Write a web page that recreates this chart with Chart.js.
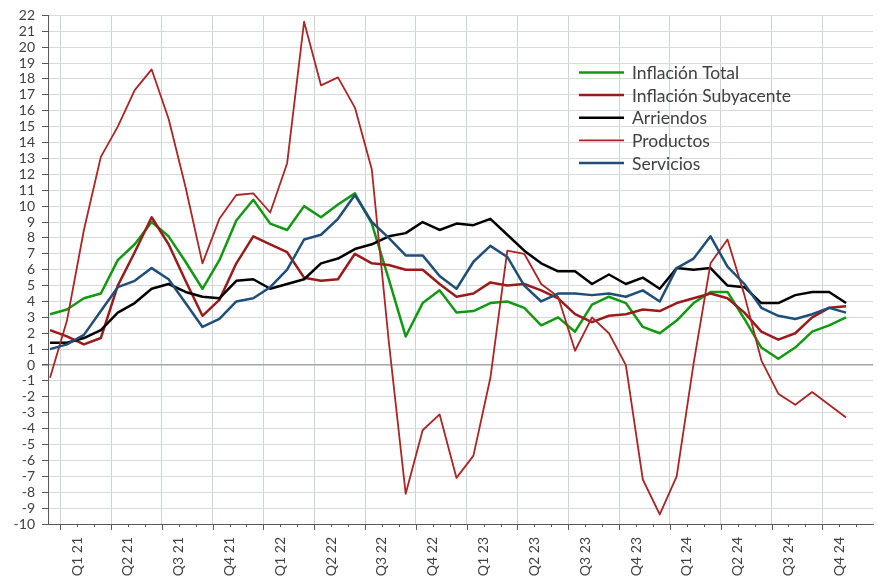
<!DOCTYPE html>
<html>
<head>
<meta charset="utf-8">
<script src="https://cdn.jsdelivr.net/npm/chart.js@4.4.1/dist/chart.umd.min.js"></script>
<style>
  html, body { margin: 0; padding: 0; background: #fff; }
</style>
</head>
<body>
<canvas id="chart" width="880" height="576"></canvas>
<script>
var months = ("ene-21, feb-21, mar-21, abr-21, may-21, jun-21, jul-21, ago-21, sep-21, oct-21, nov-21, dic-21, " +
              "ene-22, feb-22, mar-22, abr-22, may-22, jun-22, jul-22, ago-22, sep-22, oct-22, nov-22, dic-22, " +
              "ene-23, feb-23, mar-23, abr-23, may-23, jun-23, jul-23, ago-23, sep-23, oct-23, nov-23, dic-23, " +
              "ene-24, feb-24, mar-24, abr-24, may-24, jun-24, jul-24, ago-24, sep-24, oct-24, nov-24, dic-24").split(", ");
var quarters = "Q1 21, Q2 21, Q3 21, Q4 21, Q1 22, Q2 22, Q3 22, Q4 22, Q1 23, Q2 23, Q3 23, Q4 23, Q1 24, Q2 24, Q3 24, Q4 24".split(", ");

var inflacionTotal = [3.2, 3.5, 4.2, 4.5, 6.6, 7.6, 9.0, 8.1, 6.5, 4.8, 6.6, 9.1,
                      10.4, 8.9, 8.5, 10.0, 9.3, 10.1, 10.8, 8.9, 5.4, 1.8, 3.9, 4.7,
                      3.3, 3.4, 3.9, 4.0, 3.6, 2.5, 3.0, 2.1, 3.8, 4.3, 3.9, 2.4,
                      2.0, 2.8, 3.9, 4.6, 4.6, 2.9, 1.1, 0.4, 1.1, 2.1, 2.5, 3.0];
var inflacionSubyacente = [2.2, 1.8, 1.3, 1.7, 5.0, 7.1, 9.3, 7.6, 5.3, 3.1, 4.1, 6.4,
                           8.1, 7.6, 7.1, 5.5, 5.3, 5.4, 7.0, 6.4, 6.3, 6.0, 6.0, 5.1,
                           4.3, 4.5, 5.2, 5.0, 5.1, 4.7, 4.2, 3.2, 2.7, 3.1, 3.2, 3.5,
                           3.4, 3.9, 4.2, 4.5, 4.2, 3.3, 2.1, 1.6, 2.0, 3.0, 3.6, 3.7];
var arriendos = [1.4, 1.4, 1.7, 2.2, 3.3, 3.9, 4.8, 5.1, 4.6, 4.3, 4.2, 5.3,
                 5.4, 4.8, 5.1, 5.4, 6.4, 6.7, 7.3, 7.6, 8.1, 8.3, 9.0, 8.5,
                 8.9, 8.8, 9.2, 8.2, 7.2, 6.4, 5.9, 5.9, 5.1, 5.7, 5.1, 5.5,
                 4.8, 6.1, 6.0, 6.1, 5.0, 4.9, 3.9, 3.9, 4.4, 4.6, 4.6, 3.9];
var productos = [-0.8, 2.8, 8.5, 13.1, 15.0, 17.3, 18.6, 15.5, 11.2, 6.4, 9.2, 10.7,
                 10.8, 9.6, 12.7, 21.6, 17.6, 18.1, 16.2, 12.3, 1.5, -8.1, -4.1, -3.1,
                 -7.1, -5.7, -0.8, 7.2, 7.0, 5.1, 4.3, 0.9, 3.0, 2.0, 0.0, -7.2,
                 -9.4, -7.0, 0.1, 6.4, 7.9, 4.4, 0.3, -1.8, -2.5, -1.7, -2.5, -3.3];
var servicios = [1.0, 1.3, 1.9, 3.4, 4.9, 5.3, 6.1, 5.4, 3.9, 2.4, 2.9, 4.0,
                 4.2, 4.9, 6.0, 7.9, 8.2, 9.2, 10.7, 9.0, 8.0, 6.9, 6.9, 5.6,
                 4.8, 6.5, 7.5, 6.8, 5.0, 4.0, 4.5, 4.5, 4.4, 4.5, 4.3, 4.7,
                 4.0, 6.1, 6.7, 8.1, 6.2, 5.1, 3.6, 3.1, 2.9, 3.2, 3.6, 3.3];

var FONT = "Lato, 'Open Sans', sans-serif";
var TEXT = '#404040';
var AXIS = '#595959';

function points(values) {
    return values.map(function(v, i) { return {x: i, y: v}; });
}

// month boundaries sit a little after each data point, as in the source
var monthTicks = months.map(function(m, i) { return i + 0.6; });

var xTickMarks = {
    id: 'xTickMarks',
    afterDraw: function(chart) {
        var sc = chart.scales.x, ctx = chart.ctx;
        ctx.save();
        ctx.strokeStyle = AXIS;
        ctx.lineWidth = 1;
        sc.ticks.forEach(function(t, i) {
            var px = Math.round(sc.getPixelForValue(t.value)) + 0.5;
            ctx.beginPath();
            ctx.moveTo(px, sc.top);
            ctx.lineTo(px, sc.top + (i % 3 === 0 ? 6 : 3));
            ctx.stroke();
        });
        ctx.restore();
    }
};

var boxLegend = {
    id: 'boxLegend',
    afterDraw: function(chart) {
        var ctx = chart.ctx;
        ctx.save();
        ctx.font = "17.5px " + FONT;
        ctx.textBaseline = 'middle';
        ctx.fillStyle = TEXT;
        chart.data.datasets.forEach(function(ds, i) {
            var y = 72.5 + i * 22.6;
            ctx.strokeStyle = ds.borderColor;
            ctx.lineWidth = ds.borderWidth;
            ctx.beginPath();
            ctx.moveTo(579, y);
            ctx.lineTo(624, y);
            ctx.stroke();
            ctx.fillText(ds.label, 632, y + 1);
        });
        ctx.restore();
    }
};

new Chart(document.getElementById('chart'), {
    type: 'line',
    data: {
        datasets: [
            {label: 'Inflación Total', data: points(inflacionTotal), borderColor: '#119a11', borderWidth: 2.5, order: 5},
            {label: 'Inflación Subyacente', data: points(inflacionSubyacente), borderColor: '#9a1b1b', borderWidth: 2.5, order: 4},
            {label: 'Arriendos', data: points(arriendos), borderColor: '#000000', borderWidth: 2.5, order: 3},
            {label: 'Productos', data: points(productos), borderColor: '#ad2424', borderWidth: 1.8, order: 2},
            {label: 'Servicios', data: points(servicios), borderColor: '#1f4e79', borderWidth: 2.5, order: 1}
        ]
    },
    plugins: [xTickMarks, boxLegend],
    options: {
        responsive: false,
        animation: false,
        layout: {padding: {top: 15, right: 0, left: 0, bottom: 0}},
        elements: {point: {radius: 0}, line: {tension: 0, borderJoinStyle: 'round'}},
        plugins: {legend: {display: false}, tooltip: {enabled: false}},
        scales: {
            x: {
                type: 'linear',
                min: -0.12,
                max: 48.6,
                afterBuildTicks: function(scale) {
                    scale.ticks = monthTicks.map(function(v) { return {value: v}; });
                },
                afterFit: function(scale) { scale.height = 52; },
                border: {color: AXIS, width: 1},
                grid: {
                    color: function(c) { return c.index % 3 === 0 ? '#cdd4d4' : 'rgba(0,0,0,0)'; },
                    tickLength: 6,
                    tickColor: 'rgba(0,0,0,0)'
                },
                ticks: {
                    autoSkip: false,
                    minRotation: 90,
                    maxRotation: 90,
                    padding: 7,
                    color: TEXT,
                    font: {family: FONT, size: 14},
                    callback: function(v, i) { return i % 3 === 1 ? quarters[(i - 1) / 3] : ''; }
                }
            },
            y: {
                min: -10,
                max: 22,
                afterFit: function(scale) { scale.width = 48; },
                border: {color: AXIS, width: 1},
                grid: {
                    color: function(c) { return c.tick.value === 0 ? '#a6a6a6' : '#d9d9d9'; },
                    lineWidth: function(c) { return c.tick.value === 0 ? 1.5 : 1; },
                    tickLength: 6,
                    tickColor: AXIS
                },
                ticks: {
                    stepSize: 1,
                    autoSkip: false,
                    padding: 7,
                    color: TEXT,
                    font: {family: FONT, size: 14}
                }
            }
        }
    }
});
</script>
</body>
</html>
